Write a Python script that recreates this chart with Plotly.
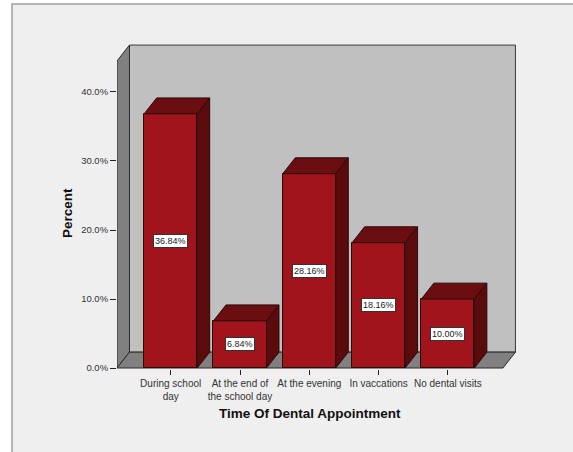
import plotly.graph_objects as go

# --- data -------------------------------------------------------------
categories = [
    "During school<br>day",
    "At the end of<br>the school day",
    "At the evening",
    "In vaccations",
    "No dental visits",
]
percent = [36.84, 6.84, 28.16, 18.16, 10.00]
y_ticks = [0, 10, 20, 30, 40]
y_tick_labels = ["0.0%", "10.0%", "20.0%", "30.0%", "40.0%"]

# --- figure geometry (pixels) -----------------------------------------
W, H = 573, 452
PL, PR, PT, PB = 117, 516, 43, 369          # plot-area edges in pixels
X_RANGE = [-0.775, 4.983]
Y_RANGE = [-0.145, 47.1]

def paper_x(px):
    return (px - PL) / (PR - PL)

def paper_y(py):
    return (PB - py) / (PB - PT)

# 3-D depth offset of the walls and bar tops (data units)
DX, DY = 0.18, 2.3
BAR_W = 0.765
WALL_TOP = 44.5
XF0, XF1 = -0.775, 4.795                       # front edge of the floor

FRONT = "#a2141b"
TOP = "#6b0e11"
SIDE = "#5c0b0d"
EDGE = "#2a0a0a"
FONT = "Liberation Sans, Arial"

xs = list(range(len(categories)))

fig = go.Figure()

# front faces of the bars
fig.add_trace(go.Bar(
    x=xs, y=percent, width=BAR_W,
    marker=dict(color=FRONT, line=dict(color=EDGE, width=1)),
    hoverinfo="skip", showlegend=False,
))

# top and side faces built from each bar's value
for x, v in zip(xs, percent):
    l, r = x - BAR_W / 2, x + BAR_W / 2
    fig.add_trace(go.Scatter(
        x=[l, r, r + DX, l + DX, l], y=[v, v, v + DY, v + DY, v],
        mode="lines", fill="toself", fillcolor=TOP,
        line=dict(color=EDGE, width=1), hoverinfo="skip", showlegend=False,
    ))
    fig.add_trace(go.Scatter(
        x=[r, r + DX, r + DX, r, r], y=[0, DY, v + DY, v, 0],
        mode="lines", fill="toself", fillcolor=SIDE,
        line=dict(color=EDGE, width=1), hoverinfo="skip", showlegend=False,
    ))

# value labels in white boxes at mid-height
annotations = []
for x, v in zip(xs, percent):
    annotations.append(dict(
        x=x, y=v / 2, xref="x", yref="y", text=f"{v:.2f}%",
        showarrow=False, bgcolor="white", bordercolor="#333333",
        borderwidth=1, borderpad=1,
        font=dict(family=FONT, size=9, color="#222222"),
    ))

# axis titles
annotations.append(dict(
    x=paper_x(310), y=paper_y(413), xref="paper", yref="paper",
    xanchor="center", yanchor="middle",
    text="<b>Time Of Dental Appointment</b>", showarrow=False,
    font=dict(family=FONT, size=13.5, color="#111111"),
))
annotations.append(dict(
    x=paper_x(67), y=paper_y(213), xref="paper", yref="paper",
    xanchor="center", yanchor="middle",
    text="<b>Percent</b>", showarrow=False, textangle=-90,
    font=dict(family=FONT, size=13.5, color="#111111"),
))

shapes = [
    # outer chart frame (its right and bottom edges run past the page)
    dict(type="rect", xref="paper", yref="paper", layer="below",
         x0=paper_x(12), x1=paper_x(576), y0=paper_y(4), y1=paper_y(455),
         fillcolor="#efefef", line=dict(color="#a0a0a0", width=1.5)),
    # back wall
    dict(type="rect", xref="x", yref="y", layer="below",
         x0=XF0 + DX, x1=XF1 + DX, y0=DY, y1=WALL_TOP + DY,
         fillcolor="#c0c0c0", line=dict(color="#3a3a3a", width=1)),
    # left wall
    dict(type="path", xref="x", yref="y", layer="below",
         path=f"M {XF0},0 L {XF0},{WALL_TOP} L {XF0 + DX},{WALL_TOP + DY} "
              f"L {XF0 + DX},{DY} Z",
         fillcolor="#808080", line=dict(color="#2a2a2a", width=1)),
    # floor
    dict(type="path", xref="x", yref="y", layer="below",
         path=f"M {XF0},0 L {XF1},0 L {XF1 + DX},{DY} L {XF0 + DX},{DY} Z",
         fillcolor="#808080", line=dict(color="#2a2a2a", width=1)),
]

fig.update_layout(
    width=W, height=H,
    margin=dict(l=PL, r=W - PR, t=PT, b=H - PB, pad=0),
    paper_bgcolor="white", plot_bgcolor="rgba(0,0,0,0)",
    showlegend=False, bargap=0,
    annotations=annotations, shapes=shapes,
    xaxis=dict(
        range=X_RANGE, tickmode="array", tickvals=xs, ticktext=categories,
        ticks="outside", ticklen=5, tickcolor="#222222", tickwidth=1,
        showgrid=False, zeroline=False, showline=False,
        tickfont=dict(family=FONT, size=10, color="#333333"),
        fixedrange=True,
    ),
    yaxis=dict(
        range=Y_RANGE, tickmode="array", tickvals=y_ticks, ticktext=y_tick_labels,
        ticks="outside", ticklen=6, tickcolor="#222222", tickwidth=1,
        showgrid=False, zeroline=False, showline=False,
        tickfont=dict(family=FONT, size=9.5, color="#333333"),
        fixedrange=True,
    ),
)

fig.write_html("out.html")
